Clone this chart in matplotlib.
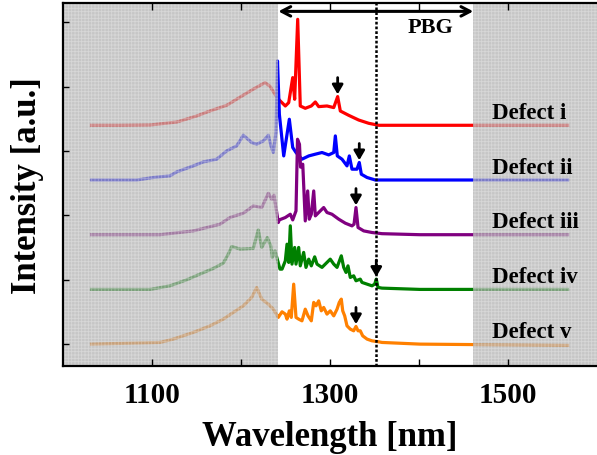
import numpy as np
import matplotlib
matplotlib.use("Agg")
import matplotlib.pyplot as plt

plt.rcParams['font.family'] = ['Liberation Serif', 'DejaVu Serif']
plt.rcParams['font.weight'] = 'bold'
plt.rcParams['axes.labelweight'] = 'bold'
plt.rcParams['hatch.linewidth'] = 0.6

# emission spectra: wavelength (nm) and intensity above each trace's baseline (a.u.)
wl_i = [1032, 1064, 1098, 1128, 1150, 1165, 1184, 1201, 1213.5, 1227,
        1232.6, 1238.2, 1243, 1249.8, 1253.6, 1258.1, 1260.3, 1263.7, 1266.6, 1272.2,
        1279, 1283.5, 1287.3, 1296.6, 1304.2, 1308.6, 1311.6, 1321, 1332.2, 1343.5,
        1354.7, 1468, 1567]
int_i = [0, 0, 0.005, 0.051, 0.144, 0.222, 0.311, 0.455, 0.559, 0.663,
         0.606, 0.481, 0.393, 0.300, 0.352, 0.741, 0.404, 1.646, 0.300, 0.264,
         0.300, 0.362, 0.290, 0.300, 0.275, 0.446, 0.222, 0.155, 0.082, 0.031,
         0, 0, 0]

wl_ii = [1032, 1083, 1101.5, 1120.2, 1127.8, 1146.4, 1157.6, 1172.7, 1183.9, 1195.2,
         1202.6, 1212, 1217.6, 1225.1, 1230.7, 1233.7, 1236.3, 1239.3, 1241, 1243.1,
         1248, 1254.3, 1258.1, 1261.8, 1268.5, 1276.1, 1283.5, 1291, 1298.5, 1304.2,
         1306, 1308.2, 1313.5, 1319.1, 1321.7, 1324.7, 1330.3, 1332.9, 1335.2, 1341.6,
         1350.9, 1358.4, 1567]
int_ii = [0, 0, 0.039, 0.064, 0.126, 0.219, 0.281, 0.323, 0.452, 0.530,
          0.696, 0.582, 0.556, 0.607, 0.696, 0.530, 0.427, 0.738, 1.849, 1.022,
          0.374, 0.944, 0.505, 0.427, 0.323, 0.374, 0.401, 0.427, 0.390, 0.427,
          0.685, 0.374, 0.323, 0.219, 0.374, 0.168, 0.168, 0.272, 0.090, 0.039,
          0, 0, 0]

wl_iii = [1032, 1109, 1146.4, 1176.4, 1187.6, 1202.6, 1213.8, 1223.3, 1230.7, 1234.5,
          1237.1, 1241.9, 1243, 1249.8, 1255.4, 1258.1, 1261.8, 1263.5, 1265.7, 1266.9,
          1269.4, 1272.2, 1274.9, 1276.7, 1279, 1281.7, 1283.5, 1287.3, 1292.9, 1296.6,
          1302.2, 1309.8, 1317.2, 1324.7, 1327, 1329.2, 1331.5, 1337.9, 1347.2, 1358.4,
          1401, 1567]
int_iii = [0, 0, 0.059, 0.163, 0.267, 0.334, 0.447, 0.422, 0.644, 0.551,
           0.613, 0.189, 0.230, 0.267, 0.318, 0.230, 0.370, 1.483, 1.405, 1.050,
           1.095, 0.214, 0.680, 0.241, 0.318, 0.680, 0.292, 0.345, 0.422, 0.345,
           0.318, 0.241, 0.179, 0.137, 0.163, 0.422, 0.112, 0.059, 0.034, 0.016,
           0, 0]

wl_iv = [1032, 1098, 1120.2, 1139, 1153.9, 1168.9, 1180.1, 1185.7, 1189.6, 1198.9,
         1213.8, 1219.4, 1223.3, 1229.6, 1233.4, 1235.2, 1238.2, 1243.8, 1246.1, 1249.8,
         1251.7, 1253.6, 1255.4, 1257.3, 1260.3, 1261.8, 1264.8, 1266.6, 1270.4, 1273,
         1276.1, 1279, 1282.8, 1285.4, 1291, 1294.7, 1300.3, 1304.2, 1307.9, 1312.7,
         1315.4, 1318, 1320.2, 1322.8, 1326.6, 1329.2, 1334, 1335.9, 1341.6, 1347.2,
         1350.2, 1352, 1353.9, 1358.4, 1401, 1567]
int_iv = [0, 0, 0.056, 0.149, 0.238, 0.326, 0.408, 0.548, 0.668, 0.626,
          0.637, 0.925, 0.652, 0.807, 0.677, 0.497, 0.599, 0.315, 0.315, 0.444,
          0.703, 0.419, 0.988, 0.393, 0.652, 0.393, 0.652, 0.366, 0.575, 0.342,
          0.470, 0.366, 0.506, 0.393, 0.342, 0.393, 0.470, 0.393, 0.342, 0.522,
          0.342, 0.264, 0.366, 0.186, 0.211, 0.134, 0.160, 0.109, 0.082, 0.056,
          0.082, 0.160, 0.031, 0.020, 0, 0]

wl_v = [1032, 1109, 1123.9, 1146.4, 1165.2, 1180.1, 1191.3, 1202.6, 1212, 1217.6,
        1223.3, 1230.7, 1236.3, 1241.9, 1243, 1246.1, 1249.8, 1251.7, 1254.3, 1256.5,
        1259.2, 1261.8, 1264.8, 1268.5, 1272.2, 1275.3, 1279, 1281.7, 1284.3, 1287.3,
        1290.2, 1292.9, 1296.6, 1300.3, 1304.2, 1307.9, 1310.4, 1312.7, 1314.3, 1316.5,
        1319.1, 1322.8, 1326.6, 1329.2, 1331.5, 1334, 1336.7, 1341.6, 1347.2, 1354.7,
        1358.4, 1401, 1567]
int_v = [0, 0.026, 0.078, 0.182, 0.284, 0.388, 0.492, 0.595, 0.725, 0.880,
         0.699, 0.621, 0.543, 0.415, 0.439, 0.502, 0.466, 0.388, 0.517, 0.415,
         0.932, 0.415, 0.388, 0.362, 0.543, 0.439, 0.362, 0.648, 0.595, 0.672,
         0.517, 0.570, 0.466, 0.517, 0.439, 0.543, 0.648, 0.699, 0.517, 0.439,
         0.284, 0.233, 0.207, 0.275, 0.207, 0.207, 0.129, 0.078, 0.051, 0.036,
         0.026, 0, -0.02]

names = ['Defect i', 'Defect ii', 'Defect iii', 'Defect iv', 'Defect v']
wavelengths = [wl_i, wl_ii, wl_iii, wl_iv, wl_v]
intensities = [int_i, int_ii, int_iii, int_iv, int_v]
colors = ['#ff0000', '#0000ff', '#800080', '#008000', '#ff8000']
offsets = [3.4, 2.55, 1.7, 0.85, 0.0]

# defect mode of each cavity (arrowed)
mode_wl = [1308.6, 1332.9, 1329.2, 1352.0, 1329.2]

pbg = (1242, 1461)   # photonic band gap window
band_edge = 1352

fig = plt.figure(figsize=(5.97, 4.56), dpi=100)
ax = fig.add_axes([63 / 597, 1 - 367 / 456, 534 / 597, 363 / 456])

for wl, inten, c, off in zip(wavelengths, intensities, colors, offsets):
    ax.plot(wl, np.array(inten) + off, color=c, lw=2.3, zorder=2)

# shade everything outside the band gap
for x0, x1 in [(1000, pbg[0]), (pbg[1], 1600)]:
    ax.axvspan(x0, x1, facecolor=(175/255, 175/255, 175/255, 0.7),
               edgecolor=(1, 1, 1, 0.3), hatch='+++++', lw=0, zorder=2.2)

ax.axvline(band_edge, color='k', lw=1.8, linestyle=(0, (1.1, 0.8)), zorder=3)

# arrows over the defect modes
for wl, inten, m, off in zip(wavelengths, intensities, mode_wl, offsets):
    tip = np.interp(m, wl, inten) + off + 0.035
    ax.annotate('', xy=(m, tip), xytext=(m, tip + 0.26),
                arrowprops=dict(arrowstyle='-|>,head_length=0.55,head_width=0.32',
                                lw=2, color='k', shrinkA=0, shrinkB=0,
                                mutation_scale=10), zorder=4)

for name, off in zip(names, offsets):
    ax.text(1482, off + 0.2, name, fontsize=16.5, va='center', ha='left', zorder=4)

ax.annotate('', xy=(pbg[0], 5.17), xytext=(pbg[1], 5.17),
            arrowprops=dict(arrowstyle='<->,head_length=0.65,head_width=0.34',
                            lw=2.2, color='k', shrinkA=0, shrinkB=0,
                            mutation_scale=10), zorder=4)
ax.text(1413, 4.93, 'PBG', fontsize=16, ha='center', va='center', zorder=4)

ax.set_xlim(1000, 1600)
ax.set_ylim(-0.34, 5.3)
ax.set_xticks([1100, 1300, 1500])
ax.set_xticks([1200, 1400], minor=True)
ax.set_yticks([0, 1, 2, 3, 4, 5])
ax.set_yticklabels([])
ax.tick_params(axis='x', which='both', direction='in', top=True, length=5,
               width=1, labelsize=21, pad=11)
ax.tick_params(axis='y', direction='in', length=4, width=1)
ax.set_axisbelow(False)

for side in ['left', 'top', 'bottom']:
    ax.spines[side].set_linewidth(1.6)
ax.spines['right'].set_visible(False)

ax.set_xlabel('Wavelength [nm]', fontsize=25, fontweight='bold')
ax.set_ylabel('Intensity [a.u.]', fontsize=25, fontweight='bold')
ax.xaxis.set_label_coords(0.5, -0.148)
ax.yaxis.set_label_coords(-0.036, 0.5)

fig.savefig('out.png', dpi=100)
